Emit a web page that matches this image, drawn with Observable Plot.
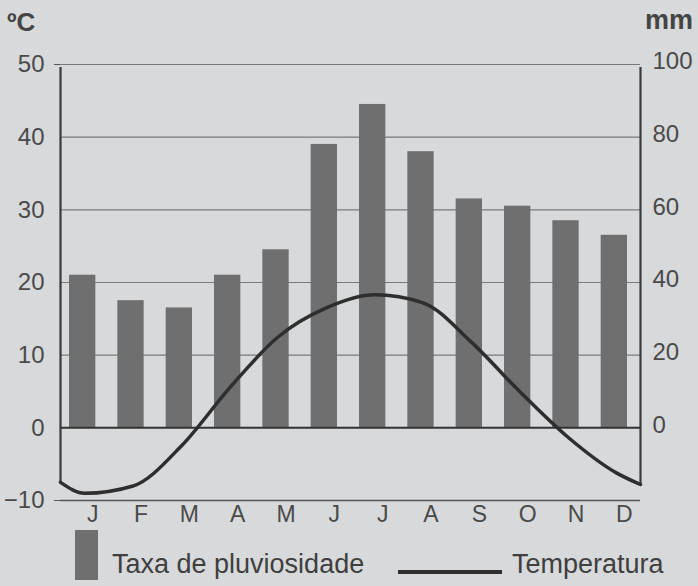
<!DOCTYPE html>
<html>
<head>
<meta charset="utf-8">
<script src="https://cdn.jsdelivr.net/npm/d3@7"></script>
<script src="https://cdn.jsdelivr.net/npm/@observablehq/plot@0.6"></script>
<style>
  html, body { margin: 0; padding: 0; background: #d7d9da; }
  body { width: 698px; height: 586px; overflow: hidden; font-family: "Liberation Sans", Arial, sans-serif; color: #4a4a4a; }
  #head { position: relative; height: 40px; }
  #head span { position: absolute; font-weight: bold; font-size: 26px; color: #454545; }
  #legend { position: relative; height: 56px; }
  #legend .sw { position: absolute; }
  #legend .lb { position: absolute; font-size: 27px; color: #3f3f3f; top: 21px; line-height: 1; }
  svg { display: block; }
</style>
</head>
<body>
<div id="head"><span style="left:7px;top:7px;">ºC</span><span style="left:645px;top:5px;font-size:27px;">mm</span></div>
<div id="chart"></div>
<div id="legend">
  <div class="sw" style="left:75px;top:0px;width:23px;height:50px;background:#6f6f6f;"></div>
  <div class="lb" style="left:112px;">Taxa de pluviosidade</div>
  <div class="sw" style="left:398px;top:40px;width:104px;height:4px;background:#2e2e2e;"></div>
  <div class="lb" style="left:512px;">Temperatura</div>
</div>
<script>
const months = ["J", "F", "M", "A", "M", "J", "J", "A", "S", "O", "N", "D"];
const rainfall = [42, 35, 33, 42, 49, 78, 89, 76, 63, 61, 57, 53];          // mm
const temperature = [-9, -8, -2.5, 5.5, 12.5, 16.5, 18.3, 17.2, 11.8, 5, -1.3, -6.2]; // °C
const tempAtLeftEdge = -7.5;
const tempAtRightEdge = -7.8;
const leftTicks = [-10, 0, 10, 20, 30, 40, 50];
const rightTicks = [0, 20, 40, 60, 80, 100];
const gridLines = [10, 20, 30, 40, 50];

const bars = months.map((m, i) => ({i, m, mm: rainfall[i]}));
const lineData = [{pos: 0, t: tempAtLeftEdge}]
  .concat(temperature.map((t, i) => ({pos: i + 0.5, t})))
  .concat([{pos: months.length, t: tempAtRightEdge}]);

const chart = Plot.plot({
  width: 698,
  height: 490,
  marginLeft: 60,
  marginRight: 58,
  marginTop: 24,
  marginBottom: 30,
  style: {background: "transparent", fontFamily: "'Liberation Sans', Arial, sans-serif", color: "#4a4a4a"},
  x: {type: "linear", domain: [0, months.length]},
  y: {domain: [-10, 50]},
  marks: [
    Plot.ruleY(gridLines, {stroke: "#7a7a7a", strokeWidth: 1.2}),
    Plot.rectY(bars, {x1: "i", x2: d => d.i + 1, y1: 0, y2: d => d.mm / 2, insetLeft: 9, insetRight: 13, fill: "#6f6f6f"}),
    Plot.ruleY([0], {stroke: "#333", strokeWidth: 2}),
    Plot.ruleY([-10], {stroke: "#555", strokeWidth: 1.5}),
    Plot.ruleX([0, months.length], {y1: -10, y2: 50, insetTop: -17, insetBottom: -3, stroke: "#3a3a3a", strokeWidth: 2.2}),
    Plot.line(lineData, {x: "pos", y: "t", curve: "monotone-x", stroke: "#2e2e2e", strokeWidth: 3.5}),
    Plot.axisY(leftTicks, {anchor: "left", tickSize: 0, tickPadding: 16, fontSize: 24, label: null, fill: "#4a4a4a"}),
    Plot.axisY([-10, 50], {anchor: "left", tickSize: 6, text: null, stroke: "#555", label: null}),
    Plot.axisY(rightTicks.map(v => v / 2), {anchor: "right", tickSize: 0, tickPadding: 12, fontSize: 24, dy: -3, label: null, tickFormat: d => String(d * 2), fill: "#4a4a4a"}),
    Plot.axisX(months.map((_, i) => i + 0.5), {anchor: "bottom", tickSize: 0, tickPadding: 5, dx: 8, fontSize: 23, label: null, tickFormat: d => months[Math.floor(d)], fill: "#4a4a4a"})
  ]
});
document.getElementById("chart").appendChild(chart);
</script>
</body>
</html>
